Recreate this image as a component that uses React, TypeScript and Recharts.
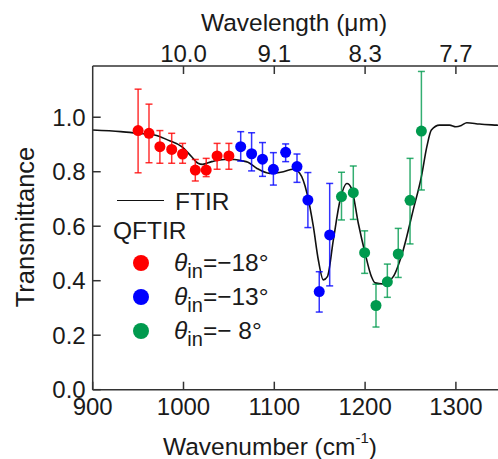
import { ComposedChart, Line, Scatter, ErrorBar, XAxis, YAxis } from "recharts";

const FONT = "'Liberation Sans', Arial, sans-serif";
const INK = "#1a1a1a";

// FTIR transmittance curve (wavenumber cm^-1 / transmittance)
const ftirWavenumber = [
  900, 931, 950, 968, 983, 998, 1009, 1016, 1021, 1031, 1045, 1056, 1064, 1071,
  1081, 1095, 1110, 1121, 1128, 1136, 1143, 1148.5, 1154, 1158.5, 1165, 1172.5,
  1180, 1185, 1192.5, 1200, 1207, 1211, 1220, 1231, 1242, 1253, 1262, 1268,
  1273, 1282, 1293, 1300, 1306, 1312, 1326, 1345, 1350,
];
const ftirTransmittance = [
  0.953, 0.947, 0.941, 0.935, 0.916, 0.892, 0.855, 0.831, 0.827, 0.837, 0.845,
  0.845, 0.84, 0.835, 0.812, 0.794, 0.8, 0.809, 0.794, 0.721, 0.599, 0.476,
  0.403, 0.415, 0.549, 0.696, 0.757, 0.739, 0.611, 0.501, 0.415, 0.392, 0.388,
  0.415, 0.513, 0.66, 0.782, 0.892, 0.953, 0.971, 0.971, 0.965, 0.97, 0.98,
  0.975, 0.971, 0.97,
];

// QFTIR, theta_in = -18 deg
const redWavenumber = [950, 962, 974, 987, 999, 1013, 1025, 1037, 1050];
const redValue = [0.951, 0.941, 0.892, 0.882, 0.865, 0.806, 0.806, 0.858, 0.858];
const redLow = [0.796, 0.833, 0.831, 0.831, 0.831, 0.766, 0.782, 0.809, 0.809];
const redHigh = [1.103, 1.048, 0.951, 0.941, 0.904, 0.845, 0.849, 0.904, 0.904];

// QFTIR, theta_in = -13 deg
const blueWavenumber = [1063, 1075, 1087, 1099, 1112.5, 1125, 1137, 1149.5, 1161];
const blueValue = [0.892, 0.866, 0.846, 0.809, 0.871, 0.819, 0.696, 0.36, 0.568];
const blueLow = [0.839, 0.803, 0.783, 0.751, 0.837, 0.761, 0.595, 0.285, 0.381];
const blueHigh = [0.947, 0.943, 0.907, 0.87, 0.902, 0.865, 0.797, 0.433, 0.757];

// QFTIR, theta_in = -8 deg
const greenWavenumber = [1174, 1187, 1199.5, 1212, 1224.5, 1236.5, 1249.5, 1262];
const greenValue = [0.709, 0.723, 0.503, 0.309, 0.396, 0.498, 0.695, 0.949];
const greenLow = [0.623, 0.625, 0.427, 0.23, 0.339, 0.412, 0.535, 0.733];
const greenHigh = [0.798, 0.821, 0.583, 0.387, 0.461, 0.592, 0.849, 1.168];

const wavenumberTicks = [900, 1000, 1100, 1200, 1300];
const wavelengthTicks = [1000, 1100, 1200, 1300];
const wavelengthLabels = ["10.0", "9.1", "8.3", "7.7"];
const transmittanceTicks = [0, 0.2, 0.4, 0.6, 0.8, 1.0];

const RED = "#ff0000";
const BLUE = "#0000ff";
const GREEN = "#009a4e";

const ftirData = ftirWavenumber.map((x, i) => ({ x, y: ftirTransmittance[i] }));

function toPoints(xs: number[], ys: number[], lo: number[], hi: number[]) {
  return xs.map((x, i) => ({ x, y: ys[i], err: [ys[i] - lo[i], hi[i] - ys[i]] }));
}

const series = [
  { name: "-18", color: RED, data: toPoints(redWavenumber, redValue, redLow, redHigh) },
  { name: "-13", color: BLUE, data: toPoints(blueWavenumber, blueValue, blueLow, blueHigh) },
  { name: "-8", color: GREEN, data: toPoints(greenWavenumber, greenValue, greenLow, greenHigh) },
];

const AXIS = "#333";
const axisStroke = { stroke: AXIS, strokeWidth: 1.5 };
const TICK_LEN = 8;
const BOTTOM_GAP = 8.5;
const TOP_GAP = 4.5;
const LEFT_GAP = 7;

// ticks point into the plot, labels stay outside
function BottomTick(p: any) {
  const y0 = p.y - BOTTOM_GAP;
  return (
    <g>
      <line x1={p.x} x2={p.x} y1={y0} y2={y0 - TICK_LEN} {...axisStroke} />
      <text x={p.x} y={p.y} dy="0.71em" textAnchor="middle" fontSize={24} fill={INK} fontFamily={FONT}>
        {p.payload.value}
      </text>
    </g>
  );
}

function TopTick(p: any) {
  const y0 = p.y + TOP_GAP;
  return (
    <g>
      <line x1={p.x} x2={p.x} y1={y0} y2={y0 + TICK_LEN} {...axisStroke} />
      <text x={p.x} y={p.y} textAnchor="middle" fontSize={24} fill={INK} fontFamily={FONT}>
        {wavelengthLabels[wavelengthTicks.indexOf(p.payload.value)]}
      </text>
    </g>
  );
}

function LeftTick(p: any) {
  const x0 = p.x + LEFT_GAP;
  return (
    <g>
      <line x1={x0} x2={x0 + TICK_LEN} y1={p.y} y2={p.y} {...axisStroke} />
      <text x={p.x} y={p.y} dy="0.355em" textAnchor="end" fontSize={24} fill={INK} fontFamily={FONT}>
        {Number(p.payload.value).toFixed(1)}
      </text>
    </g>
  );
}

function ThetaLabel({ text }: { text: string }) {
  return (
    <span>
      <i>θ</i>
      <span style={{ fontSize: 20, position: "relative", top: 7 }}>in</span>
      {text}
    </span>
  );
}

export default function App() {
  const legendRows = [
    { color: RED, text: "=−18°", y: 263 },
    { color: BLUE, text: "=−13°", y: 297 },
    { color: GREEN, text: "=− 8°", y: 331 },
  ];
  return (
    <div
      style={{
        position: "fixed",
        left: 0,
        top: 0,
        width: 498,
        height: 459,
        overflow: "hidden",
        background: "#fff",
        fontFamily: FONT,
        color: INK,
      }}
    >
      <ComposedChart
        width={510}
        height={459}
        margin={{ top: 26, right: 8.7, bottom: 29.3, left: 12.7 }}
      >
        <XAxis
          type="number"
          dataKey="x"
          domain={[900, 1350]}
          ticks={wavenumberTicks}
          allowDataOverflow
          height={40}
          tickSize={0}
          tickMargin={BOTTOM_GAP}
          tick={BottomTick}
          tickLine={false}
          axisLine={axisStroke}
        />
        <XAxis
          xAxisId="top"
          orientation="top"
          type="number"
          dataKey="x"
          domain={[900, 1350]}
          ticks={wavelengthTicks}
          allowDataOverflow
          height={40}
          tickSize={0}
          tickMargin={TOP_GAP}
          tick={TopTick}
          tickLine={false}
          axisLine={axisStroke}
        />
        <YAxis
          type="number"
          domain={[0, 1.188]}
          ticks={transmittanceTicks}
          allowDataOverflow
          width={80}
          tickSize={0}
          tickMargin={LEFT_GAP}
          tick={LeftTick}
          tickLine={false}
          axisLine={axisStroke}
        />
        {/* carries the top (wavelength) axis */}
        <Line
          xAxisId="top"
          data={ftirData}
          dataKey="y"
          stroke="none"
          dot={false}
          activeDot={false}
          isAnimationActive={false}
        />
        <Line
          data={ftirData}
          dataKey="y"
          type="monotone"
          stroke="#111"
          strokeWidth={1.6}
          dot={false}
          isAnimationActive={false}
        />
        {series.map((s) => (
          <Scatter
            key={s.name}
            data={s.data}
            dataKey="y"
            fill={s.color}
            isAnimationActive={false}
            shape={(p: any) => <circle cx={p.cx} cy={p.cy} r={5.5} fill={s.color} />}
          >
            <ErrorBar
              dataKey="err"
              direction="y"
              width={3.5}
              stroke={s.color}
              strokeWidth={1.5}
              strokeOpacity={0.8}
              isAnimationActive={false}
            />
          </Scatter>
        ))}
      </ComposedChart>

      {/* axis titles */}
      <div
        style={{
          position: "absolute",
          left: 294,
          top: 11,
          transform: "translateX(-50%)",
          fontSize: 24.5,
          lineHeight: "24px",
          whiteSpace: "nowrap",
        }}
      >
        Wavelength (μm)
      </div>
      <div
        style={{
          position: "absolute",
          left: 163,
          top: 437,
          fontSize: 24.5,
          lineHeight: "20px",
          whiteSpace: "nowrap",
        }}
      >
        Wavenumber (cm
        <span style={{ fontSize: 15, position: "relative", top: -12 }}>-1</span>)
      </div>
      <div
        style={{
          position: "absolute",
          left: 25,
          top: 227,
          transform: "translate(-50%, -50%) rotate(-90deg)",
          fontSize: 25.5,
          lineHeight: "25px",
          whiteSpace: "nowrap",
        }}
      >
        Transmittance
      </div>

      {/* legend */}
      <div
        style={{
          position: "absolute",
          left: 117,
          top: 200,
          width: 47,
          borderTop: "1.6px solid #111",
        }}
      />
      <div style={{ position: "absolute", left: 175, top: 190, fontSize: 24.5, lineHeight: "24px" }}>
        FTIR
      </div>
      <div style={{ position: "absolute", left: 113, top: 219, fontSize: 24.5, lineHeight: "24px" }}>
        QFTIR
      </div>
      {legendRows.map((r) => (
        <div key={r.text}>
          <div
            style={{
              position: "absolute",
              left: 141 - 8,
              top: r.y - 8,
              width: 16,
              height: 16,
              borderRadius: 8,
              background: r.color,
            }}
          />
          <div
            style={{
              position: "absolute",
              left: 174,
              top: r.y - 12,
              fontSize: 24.5,
              lineHeight: "24px",
              whiteSpace: "nowrap",
            }}
          >
            <ThetaLabel text={r.text} />
          </div>
        </div>
      ))}
    </div>
  );
}
